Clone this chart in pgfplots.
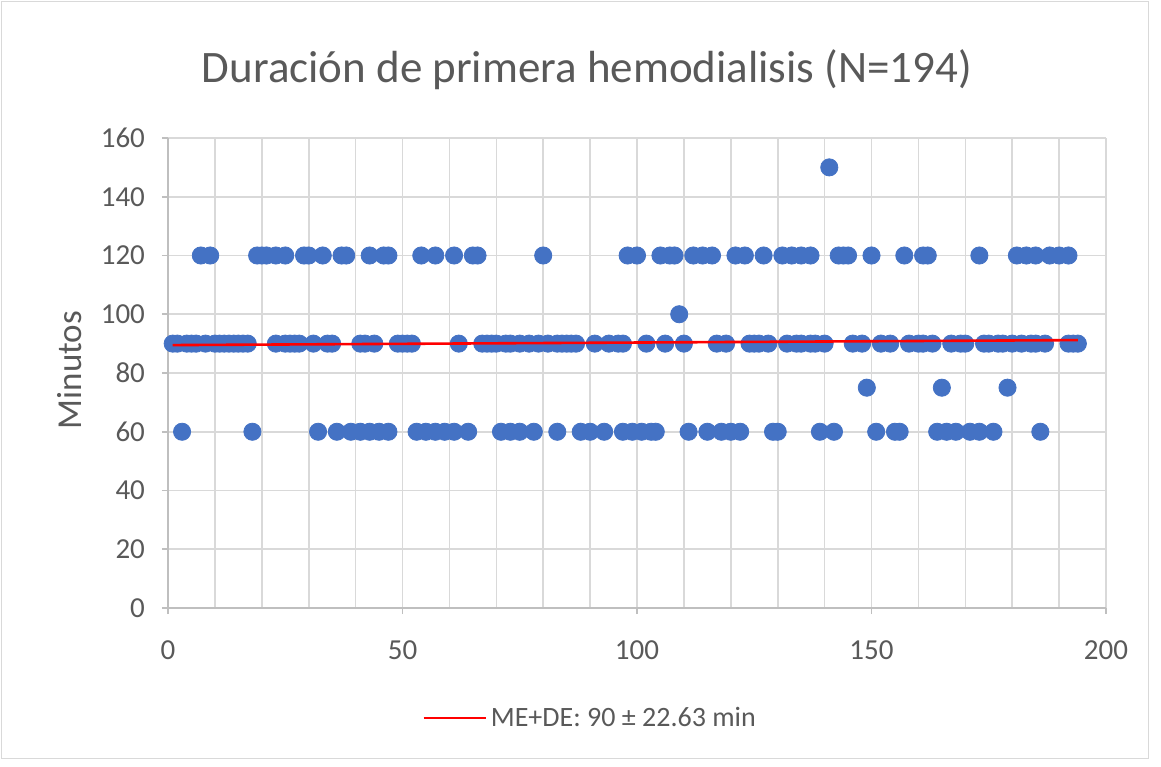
\documentclass[border=0pt]{standalone}
\usepackage{pgfplots}
\pgfplotsset{compat=1.18}
\usepackage{fontspec}
\setmainfont{Carlito}
\definecolor{dotblue}{HTML}{4472C4}
\definecolor{gridgray}{HTML}{D9D9D9}
\definecolor{axgray}{HTML}{BFBFBF}
\definecolor{txtgray}{HTML}{595959}
\begin{document}
\begin{tikzpicture}
\useasboundingbox (-84pt,-79pt) rectangle (496.5pt,304pt);
\draw[gray!30] (-83.5pt,-75pt) rectangle (490pt,303.5pt);
\begin{axis}[
  at={(0,0)}, anchor=south west,
  scale only axis,
  width=469pt, height=235pt,
  xmin=0, xmax=200, ymin=0, ymax=160,
  xtick={0,50,...,200},
  ytick={0,20,...,160},
  minor x tick num=4,
  grid=both,
  major grid style={gridgray, line width=0.8pt},
  minor grid style={gridgray, line width=0.8pt},
  axis x line=bottom, axis y line=left,
  axis line style={axgray, line width=0.8pt, -},
  tick align=outside,
  major tick length=3pt, minor tick length=0pt,
  tick style={axgray, line width=0.8pt},
  /pgf/number format/assume math mode=true,
  tick label style={font=\fontsize{14.5}{17}\selectfont, text=txtgray},
  xticklabel style={yshift=-10pt},
  yticklabel style={xshift=-5pt},
  legend style={draw=none, at={(0.451,-0.234)}, anchor=center,
    font=\fontsize{14}{16}\selectfont, text=txtgray, fill=none},
  legend image code/.code={\draw[#1] (0pt,0pt) -- (31pt,0pt);},
  clip=false,
  clip marker paths=true,
]
% 120 min
\addplot[only marks, mark=*, mark size=4.3pt, dotblue, forget plot] coordinates {
(7,120)(9,120)(19,120)(20,120)(21,120)(23,120)(25,120)(29,120)(30,120)(33,120)
(37,120)(38,120)(43,120)(46,120)(47,120)(54,120)(57,120)(61,120)(65,120)(66,120)
(80,120)(98,120)(100,120)(105,120)(107,120)(108,120)(112,120)(114,120)(116,120)
(121,120)(123,120)(127,120)(131,120)(133,120)(135,120)(137,120)(143,120)(144,120)
(145,120)(150,120)(157,120)(161,120)(162,120)(173,120)(181,120)(183,120)(185,120)
(188,120)(190,120)(192,120)
};
% 90 min
\addplot[only marks, mark=*, mark size=4.3pt, dotblue, forget plot] coordinates {
(1,90)(2,90)(4,90)(5,90)(6,90)(8,90)(10,90)(11,90)(12,90)(13,90)(14,90)(15,90)
(16,90)(17,90)(23,90)(25,90)(26,90)(27,90)(28,90)(31,90)(34,90)(35,90)(41,90)
(42,90)(44,90)(49,90)(50,90)(51,90)(52,90)(62,90)(67,90)(68,90)(69,90)(70,90)
(72,90)(73,90)(75,90)(77,90)(79,90)(81,90)(83,90)(84,90)(85,90)(86,90)(87,90)
(91,90)(94,90)(96,90)(97,90)(102,90)(106,90)(110,90)(117,90)(119,90)(124,90)
(125,90)(126,90)(128,90)(132,90)(134,90)(135,90)(137,90)(138,90)(140,90)(146,90)
(148,90)(152,90)(154,90)(158,90)(160,90)(161,90)(163,90)(167,90)(169,90)(170,90)
(174,90)(175,90)(177,90)(178,90)(180,90)(182,90)(184,90)(185,90)(187,90)(192,90)
(193,90)(194,90)
};
% 60 min
\addplot[only marks, mark=*, mark size=4.3pt, dotblue, forget plot] coordinates {
(3,60)(18,60)(32,60)(36,60)(39,60)(41,60)(43,60)(45,60)(47,60)(53,60)(55,60)
(57,60)(59,60)(61,60)(64,60)(71,60)(73,60)(75,60)(78,60)(83,60)(88,60)(90,60)
(93,60)(97,60)(99,60)(101,60)(103,60)(104,60)(111,60)(115,60)(118,60)(120,60)
(122,60)(129,60)(130,60)(139,60)(142,60)(151,60)(155,60)(156,60)(164,60)(166,60)
(168,60)(171,60)(173,60)(176,60)(186,60)
};
% other values
\addplot[only marks, mark=*, mark size=4.3pt, dotblue, forget plot] coordinates {
(149,75)(165,75)(179,75)(109,100)(141,150)
};
\addplot[red, line width=1.3pt] coordinates {(1,89.5) (194,91.2)};
\legend{ME+DE: 90 ± 22.63 min}
\end{axis}
\node[text=txtgray, font=\fontsize{22.5}{27}\selectfont] at (209.5pt,269pt) {Duración de primera hemodialisis (N=194)};
\node[text=txtgray, rotate=90, font=\fontsize{17.5}{21}\selectfont] at (-49pt,119pt) {Minutos};
\end{tikzpicture}
\end{document}
